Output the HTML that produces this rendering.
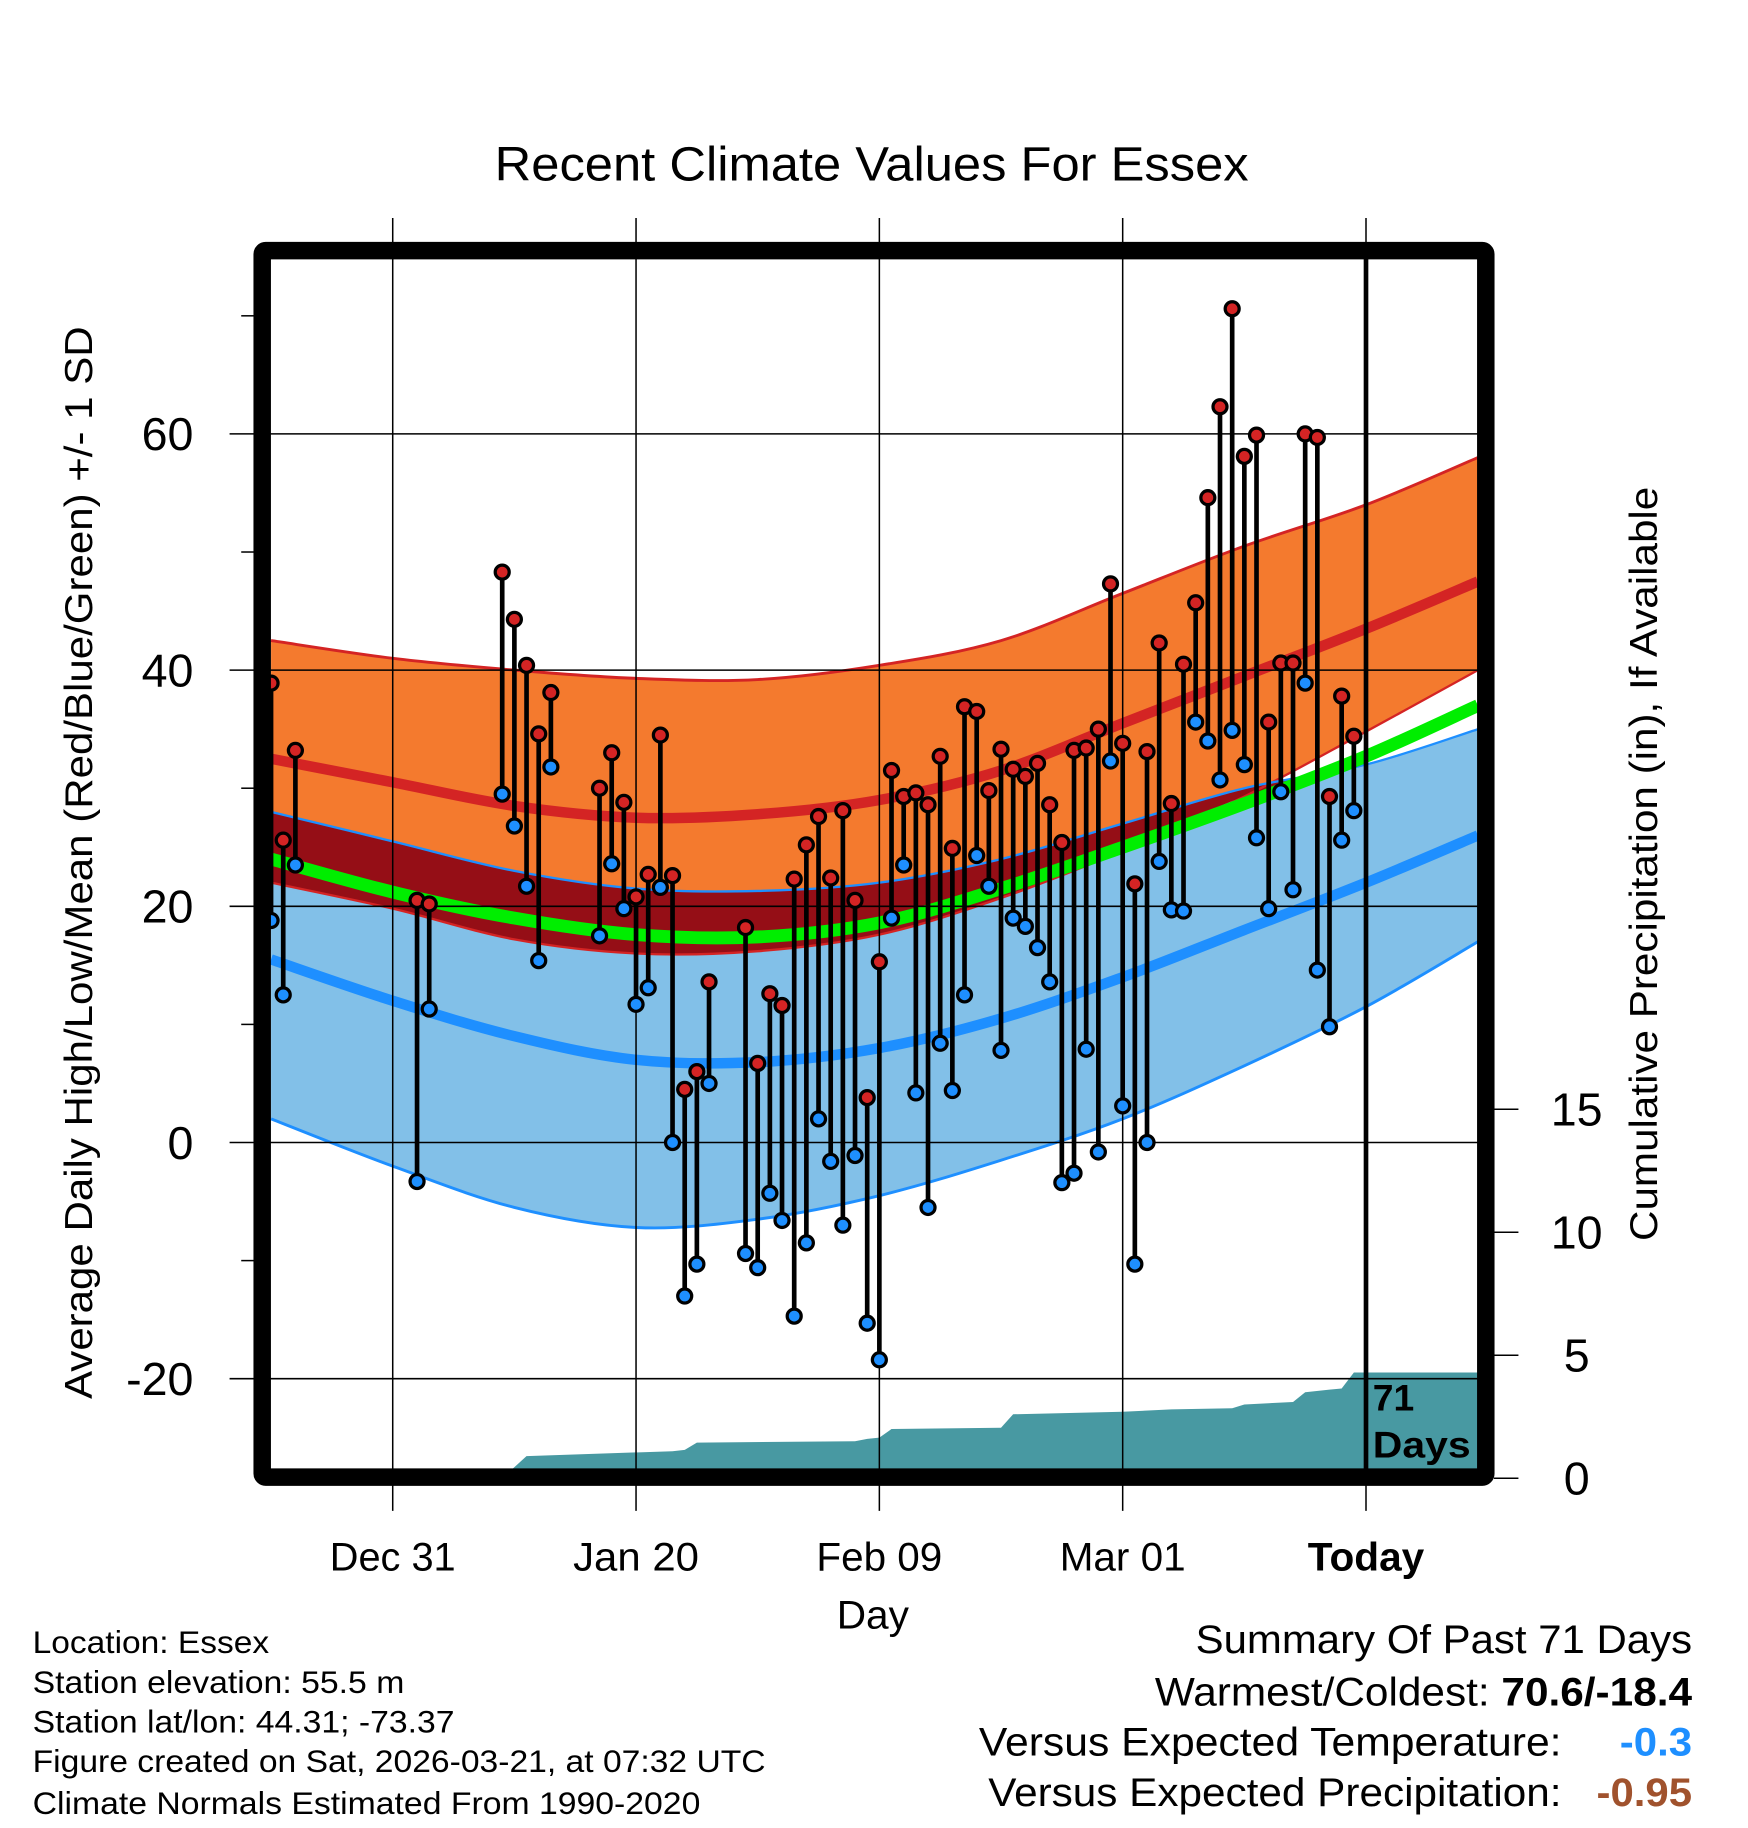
<!DOCTYPE html>
<html><head><meta charset="utf-8"><title>Recent Climate Values For Essex</title>
<style>
html,body{margin:0;padding:0;background:#fff;}
svg{display:block;font-family:"Liberation Sans",Arial,sans-serif;}
</style></head>
<body>
<svg id="chart" width="1748" height="1828" viewBox="0 0 1500 1568" preserveAspectRatio="none" xmlns="http://www.w3.org/2000/svg">
<g id="bands"></g>
<g id="precip"></g>
<g id="grid"></g>
<g id="marks"></g>
<g id="axes"></g>
</svg>
<script>
// ---- data ----
const dataDays = [0,1,2,12,13,19,20,21,22,23,27,28,29,30,31,32,33,34,35,36,39,40,41,42,43,44,45,46,47,48,49,50,51,52,53,54,55,56,57,58,59,60,61,62,63,64,65,66,67,68,69,70,71,72,73,74,75,76,77,78,79,80,81,82,83,84,85,86,87,88,89];
const highs = [38.9,25.6,33.2,20.5,20.2,48.3,44.3,40.4,34.6,38.1,30,33,28.8,20.8,22.7,34.5,22.6,4.5,6,13.6,18.2,6.7,12.6,11.6,22.3,25.2,27.6,22.4,28.1,20.5,3.8,15.3,31.5,29.3,29.6,28.6,32.7,24.9,36.9,36.5,29.8,33.3,31.6,31,32.1,28.6,25.4,33.2,33.4,35,47.3,33.8,21.9,33.1,42.3,28.7,40.5,45.7,54.6,62.3,70.6,58.1,59.9,35.6,40.6,40.6,60,59.7,29.3,37.8,34.4];
const lows = [18.8,12.5,23.5,-3.3,11.3,29.5,26.8,21.7,15.4,31.8,17.5,23.6,19.8,11.7,13.1,21.6,0,-13,-10.3,5,-9.4,-10.6,-4.3,-6.6,-14.7,-8.5,2,-1.6,-7,-1.1,-15.3,-18.4,19,23.5,4.2,-5.5,8.4,4.4,12.5,24.3,21.7,7.8,19,18.3,16.5,13.6,-3.4,-2.6,7.9,-0.8,32.3,3.1,-10.3,0,23.8,19.7,19.6,35.6,34,30.7,34.9,32,25.8,19.8,29.7,21.4,38.9,14.6,9.8,25.6,28.1];
const normDays = [0,10,20,30,40,50,60,70,80,90,99.2];
const hiTop  = [42.5,41,40,39.3,39.2,40.4,42.5,46.5,50.5,54,58];
const hiMean = [32.5,30.5,28.5,27.5,27.8,29,31.5,35.5,39.5,43.5,47.5];
const hiLow  = [22,19.8,17.2,16,16.2,17.6,20.7,24.7,29.3,34.8,40];
const avgMean= [24,21.2,19,17.6,17.4,18.6,21.5,25,28.7,32.7,37];
const loTop  = [28,25.5,23,21.5,21.3,22,24,27,30,32,35];
const loMean = [15.5,12,9,7,6.8,8,10.5,14,18,22,26];
const loBot  = [2,-2,-5.5,-7.2,-6.5,-4.5,-1.5,2,6.5,11.5,17];
const precipDays = [19,21,33,34,35,48,49,50,51,60,61,70,74,79,80,84,85,87,88,89,99.2];
const precipCum  = [0,0.9,1.1,1.15,1.45,1.5,1.6,1.65,2.0,2.05,2.6,2.7,2.8,2.85,3.0,3.1,3.5,3.6,3.65,4.3,4.3];
const yTicks = [60,40,20,0,-20];
const yMinor = [70,50,30,10,-10];
const pTicks = [0,5,10,15];
const xTickDays = [10,30,50,70,90];
const xTickLabels = ["Dec 31","Jan 20","Feb 09","Mar 01","Today"];

// ---- axes functions ----
const X0=232.6, PXD=10.44, PL=232, PR=1268, PT=222, PB=1260;
const xs = d => X0 + PXD*d;
const ys = v => 980 - 10.13*v;
const yp = p => 1268 - 21.1*p;
const NS="http://www.w3.org/2000/svg";
function mk(tag, parent, attrs){const e=document.createElementNS(NS,tag);for(const k in attrs)e.setAttribute(k,attrs[k]);parent.appendChild(e);return e;}
const bands=document.getElementById('bands'), precip=document.getElementById('precip'), grid=document.getElementById('grid'), marks=document.getElementById('marks'), axes=document.getElementById('axes');

function smooth(pts, moveFirst){
  let d=(moveFirst?'M':'L')+pts[0][0].toFixed(1)+','+pts[0][1].toFixed(1);
  for(let i=0;i<pts.length-1;i++){
    const p0=pts[Math.max(i-1,0)],p1=pts[i],p2=pts[i+1],p3=pts[Math.min(i+2,pts.length-1)];
    const c1=[p1[0]+(p2[0]-p0[0])/6,p1[1]+(p2[1]-p0[1])/6];
    const c2=[p2[0]-(p3[0]-p1[0])/6,p2[1]-(p3[1]-p1[1])/6];
    d+='C'+c1[0].toFixed(1)+','+c1[1].toFixed(1)+' '+c2[0].toFixed(1)+','+c2[1].toFixed(1)+' '+p2[0].toFixed(1)+','+p2[1].toFixed(1);
  }
  return d;
}
const ptsOf = arr => normDays.map((d,i)=>[xs(d),ys(arr[i])]);
const linePath = arr => smooth(ptsOf(arr),true);
const bandPath = (top,bot) => smooth(ptsOf(top),true)+smooth(ptsOf(bot).reverse(),false)+'Z';

const orange=mk('path',bands,{d:bandPath(hiTop,hiLow),fill:'#f47a2e'});


const lblue=mk('path',bands,{d:bandPath(loTop,loBot),fill:'#82c0e8'});


const ovTop=loTop.map((v,i)=>Math.min(v,hiTop[i]));
const ovBot=hiLow.map((v,i)=>Math.min(Math.max(v,loBot[i]),ovTop[i]));
const dark=mk('path',bands,{d:bandPath(ovTop,ovBot),fill:'#950e16'});


const lineDefs=[[hiTop,'#d42424',2.5,'high-plus-sd-line'],[hiLow,'#d42424',2,'high-minus-sd-line'],[loTop,'#1e8fff',2,'low-plus-sd-line'],[loBot,'#1e8fff',2.5,'low-minus-sd-line'],[hiMean,'#d42424',9,'mean-high-line'],[loMean,'#1e8fff',9,'mean-low-line'],[avgMean,'#00ee00',11,'mean-average-line']];
lineDefs.forEach(ld=>{const l=mk('path',bands,{d:linePath(ld[0]),fill:'none',stroke:ld[1],'stroke-width':ld[2]});

});

// precip area
let pp=precipDays.map((d,i)=>xs(d).toFixed(1)+','+yp(precipCum[i]).toFixed(1));
pp.push(xs(precipDays[precipDays.length-1]).toFixed(1)+','+PB, xs(precipDays[0]).toFixed(1)+','+PB);
const pa=mk('polygon',precip,{points:pp.join(' '),fill:'#4899a2'});



// grid
yTicks.forEach(v=>{const l=mk('line',grid,{x1:197,x2:PR,y1:ys(v),y2:ys(v),stroke:'#000','stroke-width':1.3});


const t=mk('text',axes,{x:166,y:ys(v)+14,'text-anchor':'end','font-size':40});t.textContent=v;

});
yMinor.forEach(v=>{const l=mk('line',grid,{x1:207,x2:220,y1:ys(v),y2:ys(v),stroke:'#000','stroke-width':1.3});

});
xTickDays.forEach((d,i)=>{const l=mk('line',grid,{x1:xs(d),x2:xs(d),y1:187,y2:1296,stroke:'#000','stroke-width':1.3});


const t=mk('text',axes,{x:xs(d),y:1347,'text-anchor':'middle','font-size':34,'font-weight':i==4?'bold':'normal',textLength:i==4?100:108,lengthAdjust:'spacingAndGlyphs'});t.textContent=xTickLabels[i];

});
const today=mk('line',grid,{x1:xs(90),x2:xs(90),y1:PT,y2:PB,stroke:'#000','stroke-width':4});


pTicks.forEach(p=>{const l=mk('line',axes,{x1:1282,x2:1303,y1:yp(p),y2:yp(p),stroke:'#000','stroke-width':1.3});


const t=mk('text',axes,{x:1353,y:yp(p)+14,'text-anchor':'middle','font-size':40});t.textContent=p;

});

// daily marks
dataDays.forEach((d,i)=>{const x=xs(d);
const s=mk('line',marks,{x1:x,x2:x,y1:ys(highs[i]),y2:ys(lows[i]),stroke:'#000','stroke-width':4});


const h=mk('circle',marks,{cx:x,cy:ys(highs[i]),r:6,fill:'#d42424',stroke:'#000','stroke-width':2.8});


const lo=mk('circle',marks,{cx:x,cy:ys(lows[i]),r:6,fill:'#1e8fff',stroke:'#000','stroke-width':2.8});

});

// frame
const fr=mk('rect',axes,{x:225,y:215,width:1050,height:1052,fill:'none',stroke:'#000','stroke-width':15,rx:3});



function txt(str,attrs,name,len){if(len){attrs.textLength=len;attrs.lengthAdjust='spacingAndGlyphs';}
const t=mk('text',axes,attrs);t.textContent=str;

return t;}
txt('71',{x:1178,y:1210,'font-size':32,'font-weight':'bold'},'days-count-label');
txt('Days',{x:1178,y:1250,'font-size':32,'font-weight':'bold'},'days-label',84);
txt('Recent Climate Values For Essex',{x:748,y:155,'text-anchor':'middle','font-size':41},'chart-title',647);
txt('Average Daily High/Low/Mean (Red/Blue/Green) +/- 1 SD',{x:0,y:0,'font-size':33,'text-anchor':'middle',transform:'translate(79,740) rotate(-90)'},'y-axis-title',920);
txt('Cumulative Precipitation (in), If Available',{x:0,y:0,'font-size':33,'text-anchor':'middle',transform:'translate(1422,741) rotate(-90)'},'y2-axis-title',647);
txt('Day',{x:749,y:1397,'text-anchor':'middle','font-size':34},'x-axis-title',62);
const info=['Location: Essex','Station elevation: 55.5 m','Station lat/lon: 44.31; -73.37','Figure created on Sat, 2026-03-21, at 07:32 UTC','Climate Normals Estimated From 1990-2020'];
const infoLen=[203,319,362,629,573];
const infoY=[1418,1452,1486,1520,1556];
info.forEach((s,i)=>txt(s,{x:28,y:infoY[i],'font-size':27},'station-info-line',infoLen[i]));
txt('Summary Of Past 71 Days',{x:1452,y:1418,'text-anchor':'end','font-size':34},'summary-title',426);
const w=txt('Warmest/Coldest: ',{x:1452,y:1463,'text-anchor':'end','font-size':34},'warmest-coldest',461);
const b=mk('tspan',w,{'font-weight':'bold'});b.textContent='70.6/-18.4';
txt('Versus Expected Temperature:',{x:1340,y:1506,'text-anchor':'end','font-size':34},'temp-anomaly-label',500);
txt('-0.3',{x:1452,y:1506,'text-anchor':'end','font-size':34,'font-weight':'bold',fill:'#1e8fff'},'temp-anomaly-value',62);
txt('Versus Expected Precipitation:',{x:1340,y:1549,'text-anchor':'end','font-size':34},'precip-anomaly-label',492);
txt('-0.95',{x:1452,y:1549,'text-anchor':'end','font-size':34,'font-weight':'bold',fill:'#a0522d'},'precip-anomaly-value',82);
</script>
</body></html>
